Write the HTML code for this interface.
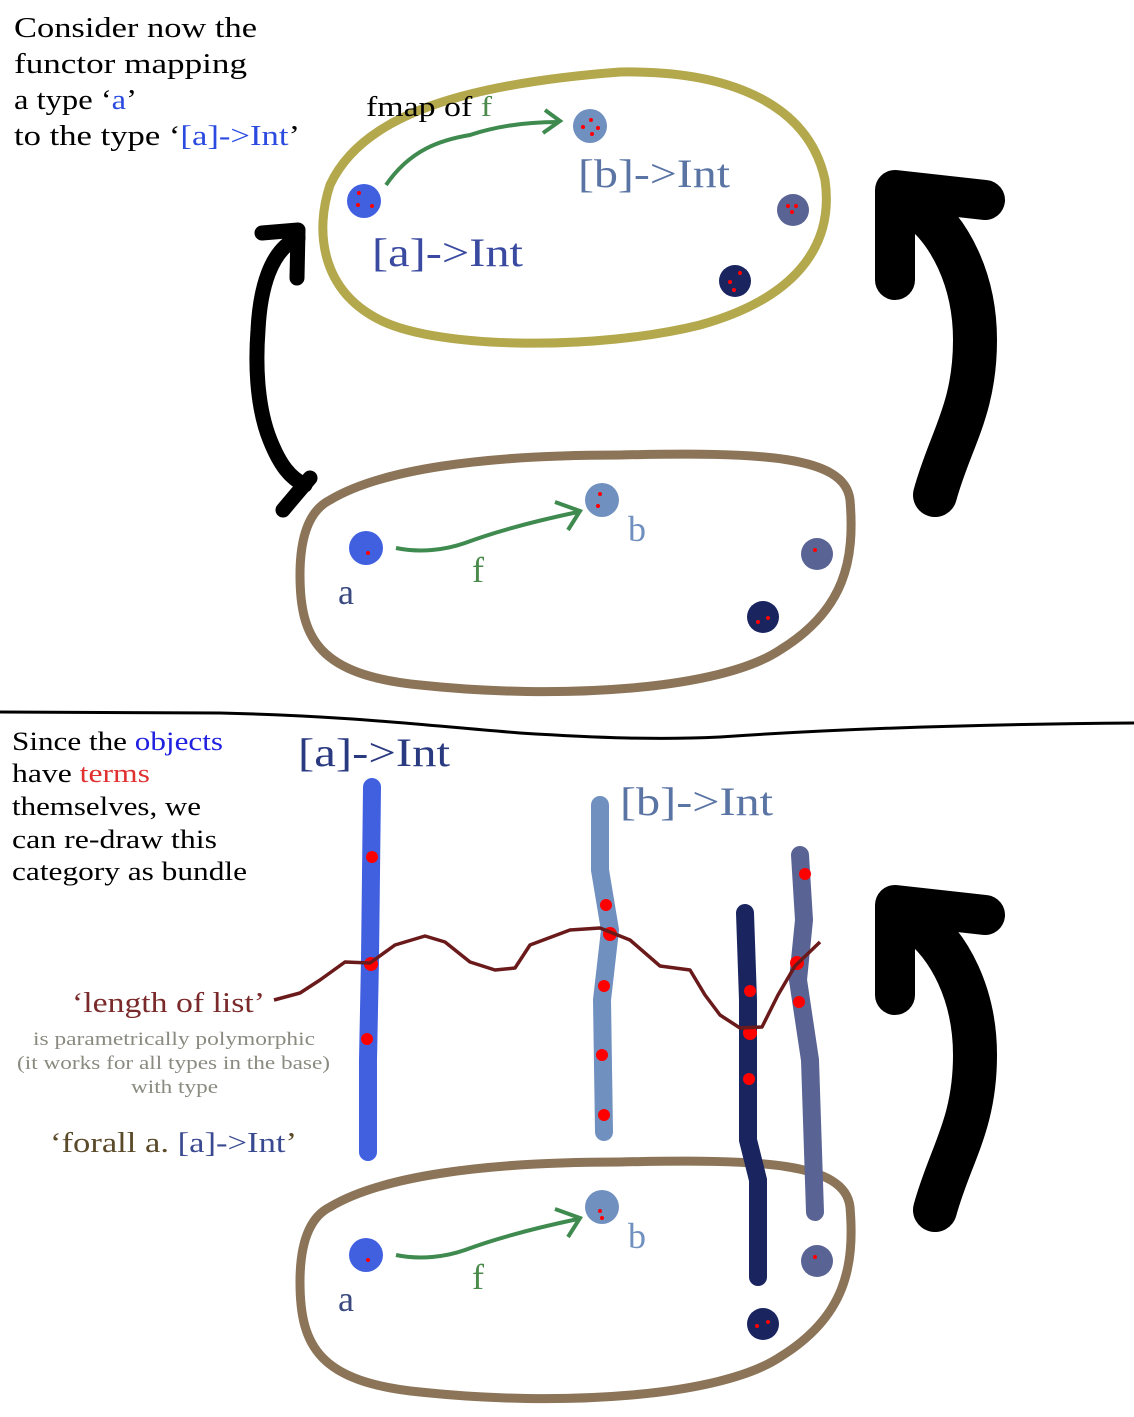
<!DOCTYPE html>
<html><head><meta charset="utf-8"><style>
html,body{margin:0;padding:0;background:#fff;}
svg{display:block;}
text{font-family:"Liberation Serif",serif;}
</style></head><body>
<svg width="1134" height="1417" viewBox="0 0 1134 1417" xmlns="http://www.w3.org/2000/svg">
<rect width="1134" height="1417" fill="#fff"/>
<g font-size="28" fill="#000">
<text x="14" y="37" textLength="243" lengthAdjust="spacingAndGlyphs">Consider now the</text>
<text x="14" y="73" textLength="233" lengthAdjust="spacingAndGlyphs">functor mapping</text>
<text x="14" y="109" textLength="123" lengthAdjust="spacingAndGlyphs">a type ‘<tspan fill="#2a4ae0">a</tspan>’</text>
<text x="14" y="145" textLength="286" lengthAdjust="spacingAndGlyphs">to the type ‘<tspan fill="#2a4ae0">[a]-&gt;Int</tspan>’</text>
</g>
<path d="M330 185 C360 120 450 85 620 72 C740 70 810 110 825 180 C835 250 790 300 700 325 C600 350 440 350 380 320 C320 290 315 230 330 185 Z" fill="none" stroke="#b4a84c" stroke-width="9"/>
<circle cx="364" cy="201" r="17" fill="#4060e0"/>
<circle cx="359" cy="193" r="2" fill="#f00"/><circle cx="358" cy="205" r="2" fill="#f00"/><circle cx="372" cy="206" r="2" fill="#f00"/>
<circle cx="590" cy="126" r="17" fill="#7090c0"/>
<circle cx="583" cy="127" r="2" fill="#f00"/><circle cx="591" cy="120" r="2" fill="#f00"/><circle cx="598" cy="128" r="2" fill="#f00"/><circle cx="592" cy="134" r="2" fill="#f00"/>
<circle cx="793" cy="210" r="16" fill="#5a6494"/>
<circle cx="788" cy="206" r="2" fill="#f00"/><circle cx="796" cy="206" r="2" fill="#f00"/><circle cx="792" cy="212" r="2" fill="#f00"/>
<circle cx="735" cy="281" r="16" fill="#1a2560"/>
<circle cx="740" cy="273" r="2" fill="#f00"/><circle cx="730" cy="282" r="2" fill="#f00"/><circle cx="734" cy="290" r="2" fill="#f00"/>
<text x="578" y="187" font-size="40" fill="#5a74a4" textLength="152" lengthAdjust="spacingAndGlyphs">[b]-&gt;Int</text>
<text x="372" y="266" font-size="40" fill="#3a4aa0" textLength="151" lengthAdjust="spacingAndGlyphs">[a]-&gt;Int</text>
<text x="366" y="116" font-size="28" fill="#000" textLength="126" lengthAdjust="spacingAndGlyphs">fmap of <tspan fill="#4a8a4a">f</tspan></text>
<path d="M386 185 C410 150 440 140 470 135 C500 125 530 122 558 122" fill="none" stroke="#3f8a4f" stroke-width="4"/>
<path d="M545 110 L560 121 L543 133" fill="none" stroke="#3f8a4f" stroke-width="4"/>
<path d="M298 238 C270 250 260 290 258 330 C255 370 258 410 270 440 C280 465 290 478 305 485" fill="none" stroke="#000" stroke-width="15" stroke-linecap="round"/>
<path d="M262 233 L298 230 L297 278" fill="none" stroke="#000" stroke-width="15" stroke-linecap="round" stroke-linejoin="round"/>
<path d="M310 478 L283 510" fill="none" stroke="#000" stroke-width="15" stroke-linecap="round"/>
<path d="M935 495 C950 440 975 410 975 340 C975 280 950 230 915 205" fill="none" stroke="#000" stroke-width="44" stroke-linecap="round"/>
<path d="M895 280 L895 190 L985 200" fill="none" stroke="#000" stroke-width="40" stroke-linecap="round" stroke-linejoin="round"/>
<path d="M330 500 C380 470 480 455 620 455 C760 452 845 455 850 500 C855 560 845 610 780 650 C720 690 560 700 420 685 C320 675 300 640 300 575 C300 535 310 510 330 500 Z" fill="none" stroke="#8b7458" stroke-width="9"/>
<circle cx="366" cy="548" r="17" fill="#4060e0"/><circle cx="368" cy="553" r="2" fill="#f00"/>
<circle cx="602" cy="500" r="17" fill="#7090c0"/><circle cx="600" cy="494" r="2" fill="#f00"/><circle cx="598" cy="506" r="2" fill="#f00"/>
<circle cx="817" cy="554" r="16" fill="#5a6494"/><circle cx="815" cy="550" r="2" fill="#f00"/>
<circle cx="763" cy="617" r="16" fill="#1a2560"/><circle cx="758" cy="622" r="2" fill="#f00"/><circle cx="768" cy="618" r="2" fill="#f00"/>
<text x="338" y="604" font-size="36" fill="#3a4a80">a</text>
<text x="628" y="541" font-size="36" fill="#7090c0">b</text>
<text x="472" y="582" font-size="36" fill="#4a8a4a">f</text>
<path d="M396 548 C420 553 445 550 465 543 C500 530 540 520 578 512" fill="none" stroke="#3f8a4f" stroke-width="4"/>
<path d="M555 502 L580 511 L568 530" fill="none" stroke="#3f8a4f" stroke-width="4"/>
<path d="M0 712 L220 713 C350 716 420 725 520 733 C600 738 660 740 720 737 C850 728 1000 724 1134 723" fill="none" stroke="#000" stroke-width="3"/>
<g font-size="26" fill="#000">
<text x="12" y="750" textLength="211" lengthAdjust="spacingAndGlyphs">Since the <tspan fill="#2020e0">objects</tspan></text>
<text x="12" y="782" textLength="138" lengthAdjust="spacingAndGlyphs">have <tspan fill="#e03030">terms</tspan></text>
<text x="12" y="815" textLength="189" lengthAdjust="spacingAndGlyphs">themselves, we</text>
<text x="12" y="848" textLength="205" lengthAdjust="spacingAndGlyphs">can re-draw this</text>
<text x="12" y="880" textLength="235" lengthAdjust="spacingAndGlyphs">category as bundle</text>
</g>
<text x="298" y="766" font-size="40" fill="#2a3a80" textLength="152" lengthAdjust="spacingAndGlyphs">[a]-&gt;Int</text>
<text x="620" y="815" font-size="40" fill="#5a74a4" textLength="153" lengthAdjust="spacingAndGlyphs">[b]-&gt;Int</text>
<path d="M935 1210 C950 1155 975 1125 975 1055 C975 995 950 945 915 920" fill="none" stroke="#000" stroke-width="44" stroke-linecap="round"/>
<path d="M895 995 L895 905 L985 915" fill="none" stroke="#000" stroke-width="40" stroke-linecap="round" stroke-linejoin="round"/>
<path d="M330 1207 C380 1177 480 1162 620 1162 C760 1159 845 1162 850 1207 C855 1267 845 1317 780 1357 C720 1397 560 1407 420 1392 C320 1382 300 1347 300 1282 C300 1242 310 1217 330 1207 Z" fill="none" stroke="#8b7458" stroke-width="9"/>
<path d="M372 787 L370 960 L368 1060 L368 1152" fill="none" stroke="#4060e0" stroke-width="18" stroke-linecap="round"/>
<path d="M600 805 L600 870 L610 930 L602 1000 L604 1132" fill="none" stroke="#7090c0" stroke-width="18" stroke-linecap="round"/>
<path d="M745 913 L748 1000 L748 1140 L758 1180 L758 1277" fill="none" stroke="#1a2560" stroke-width="18" stroke-linecap="round"/>
<path d="M800 855 L804 920 L798 980 L810 1060 L815 1212" fill="none" stroke="#5a6494" stroke-width="18" stroke-linecap="round"/>
<g fill="#f00">
<circle cx="372" cy="857" r="6"/><circle cx="371" cy="964" r="7"/><circle cx="367" cy="1039" r="6"/>
<circle cx="606" cy="905" r="6"/><circle cx="610" cy="934" r="7"/><circle cx="604" cy="986" r="6"/><circle cx="602" cy="1055" r="6"/><circle cx="604" cy="1115" r="6"/>
<circle cx="750" cy="991" r="6"/><circle cx="750" cy="1033" r="7"/><circle cx="749" cy="1079" r="6"/>
<circle cx="805" cy="874" r="6"/><circle cx="797" cy="963" r="7"/><circle cx="799" cy="1002" r="6"/>
</g>
<path d="M274 1000 L300 993 L320 980 L345 962 L370 963 L395 945 L425 936 L445 942 L470 962 L495 970 L515 968 L530 945 L570 930 L600 928 L630 940 L660 966 L690 970 L705 995 L720 1015 L740 1028 L762 1027 L778 995 L795 966 L820 942" fill="none" stroke="#6a1a1a" stroke-width="3.5" stroke-linejoin="round"/>
<text x="72" y="1012" font-size="28" fill="#7a2a2a" textLength="193" lengthAdjust="spacingAndGlyphs">‘length of list’</text>
<g font-size="19" fill="#8a8a80">
<text x="33" y="1045" textLength="282" lengthAdjust="spacingAndGlyphs">is parametrically polymorphic</text>
<text x="17" y="1069" textLength="313" lengthAdjust="spacingAndGlyphs">(it works for all types in the base)</text>
<text x="131" y="1093" textLength="87" lengthAdjust="spacingAndGlyphs">with type</text>
</g>
<text x="50" y="1152" font-size="28" fill="#5a4a2a" textLength="247" lengthAdjust="spacingAndGlyphs">‘forall a. <tspan fill="#3a4a90">[a]-&gt;Int</tspan>’</text>
<circle cx="366" cy="1255" r="17" fill="#4060e0"/><circle cx="368" cy="1260" r="2" fill="#f00"/>
<circle cx="602" cy="1207" r="17" fill="#7090c0"/><circle cx="600" cy="1211" r="2" fill="#f00"/><circle cx="602" cy="1218" r="2" fill="#f00"/>
<circle cx="817" cy="1261" r="16" fill="#5a6494"/><circle cx="815" cy="1257" r="2" fill="#f00"/>
<circle cx="763" cy="1324" r="16" fill="#1a2560"/><circle cx="757" cy="1326" r="2" fill="#f00"/><circle cx="768" cy="1322" r="2" fill="#f00"/>
<text x="338" y="1311" font-size="36" fill="#3a4a80">a</text>
<text x="628" y="1248" font-size="36" fill="#7090c0">b</text>
<text x="472" y="1289" font-size="36" fill="#4a8a4a">f</text>
<path d="M396 1255 C420 1260 445 1257 465 1250 C500 1237 540 1227 578 1219" fill="none" stroke="#3f8a4f" stroke-width="4"/>
<path d="M555 1209 L580 1218 L568 1237" fill="none" stroke="#3f8a4f" stroke-width="4"/>
</svg>
</body></html>
